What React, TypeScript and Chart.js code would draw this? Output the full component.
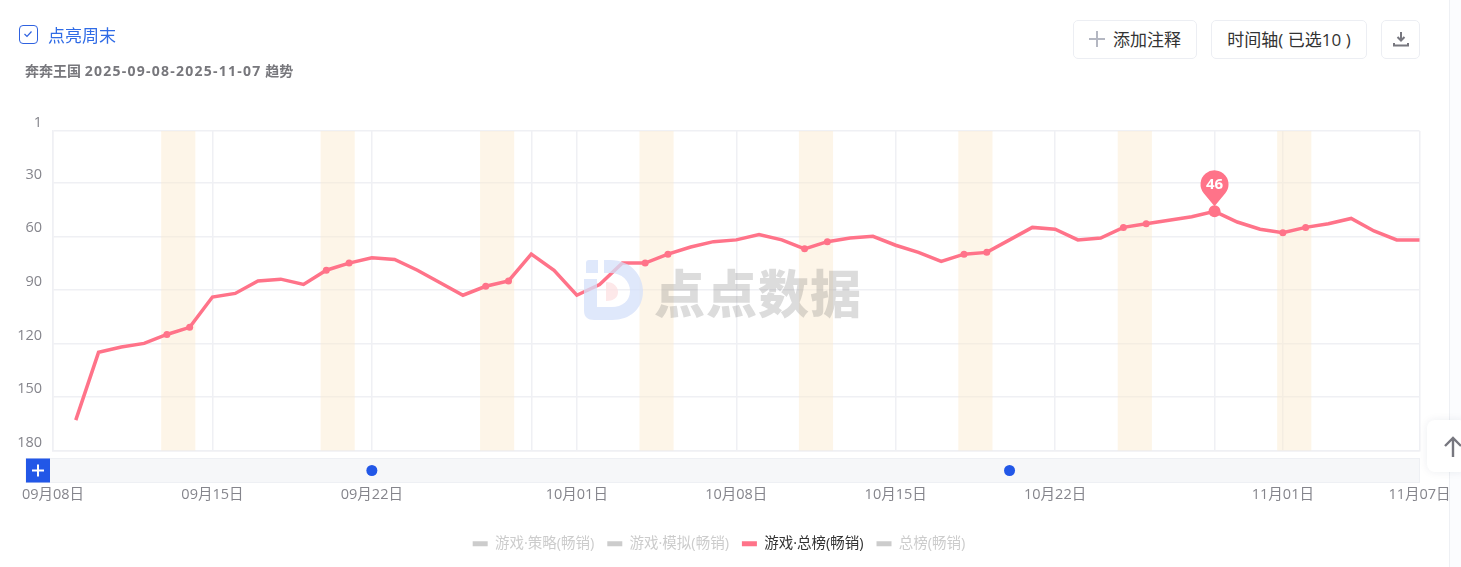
import { Chart, registerables } from "chart.js";
import { useEffect, useRef } from "react";

Chart.register(...registerables);

const FONT = '"Open Sans", "Noto Sans CJK SC", sans-serif';

const dates = [
    "09月08日", "09月09日", "09月10日", "09月11日", "09月12日", "09月13日", "09月14日",
    "09月15日", "09月16日", "09月17日", "09月18日", "09月19日", "09月20日", "09月21日",
    "09月22日", "09月23日", "09月24日", "09月25日", "09月26日", "09月27日", "09月28日",
    "09月29日", "09月30日", "10月01日", "10月02日", "10月03日", "10月04日", "10月05日",
    "10月06日", "10月07日", "10月08日", "10月09日", "10月10日", "10月11日", "10月12日",
    "10月13日", "10月14日", "10月15日", "10月16日", "10月17日", "10月18日", "10月19日",
    "10月20日", "10月21日", "10月22日", "10月23日", "10月24日", "10月25日", "10月26日",
    "10月27日", "10月28日", "10月29日", "10月30日", "10月31日", "11月01日", "11月02日",
    "11月03日", "11月04日", "11月05日", "11月06日", "11月07日",
];

const ranks = [
    null, 163, 125, 122, 120, 115, 111,
    94, 92, 85, 84, 87, 79, 75,
    72, 73, 79, 86, 93, 88, 85,
    70, 79, 93, 87, 75, 75, 70,
    66, 63, 62, 59, 62, 67, 63,
    61, 60, 65, 69, 74, 70, 69,
    62, 55, 56, 62, 61, 55, 53,
    51, 49, 46, 52, 56, 58, 55,
    53, 50, 57, 62, 62,
];

const seriesNames = ["游戏·策略(畅销)", "游戏·模拟(畅销)", "游戏·总榜(畅销)", "总榜(畅销)"];
const activeSeries = "游戏·总榜(畅销)";

const yTicks = [1, 30, 60, 90, 120, 150, 180];
const xTickDates = [
    "09月08日", "09月15日", "09月22日", "09月29日", "10月01日", "10月08日",
    "10月15日", "10月22日", "10月29日", "11月01日", "11月07日",
];
const unlabelledDates = ["09月29日", "10月29日"];

// first day of each highlighted weekend
const weekendStarts = [
    "09月13日", "09月20日", "09月27日", "10月04日", "10月11日", "10月18日", "10月25日", "11月01日",
];
const noteDates = ["09月22日", "10月20日"];
const peakDate = "10月29日";

const LINE_COLOR = "#ff7389";
const GRID_COLOR = "#eff0f4";
const BLUE = "#2257e7";

const isWeekend = (i: number) =>
    weekendStarts.some((d) => {
        const start = dates.indexOf(d);
        return i === start || i === start + 1;
    });

const backdropPlugin = {
    id: "backdrop",
    beforeDatasetsDraw(chart: any) {
        const { ctx, chartArea, scales } = chart;
        ctx.save();
        ctx.fillStyle = "rgba(250, 232, 205, 0.45)";
        weekendStarts.forEach((d) => {
            const i = dates.indexOf(d);
            const left = scales.x.getPixelForValue(i - 0.25);
            const right = scales.x.getPixelForValue(i + 1.25);
            ctx.fillRect(left, chartArea.top, right - left, chartArea.height);
        });

        // time axis strip under the plot
        const stripLeft = chartArea.left - 27;
        const stripTop = chartArea.bottom + 8;
        ctx.fillStyle = "#f6f7f9";
        ctx.fillRect(stripLeft, stripTop, chartArea.right - stripLeft, 24);
        ctx.strokeStyle = "#eef0f4";
        ctx.lineWidth = 1;
        ctx.strokeRect(stripLeft, stripTop, chartArea.right - stripLeft, 24);
        ctx.fillStyle = BLUE;
        ctx.fillRect(stripLeft, stripTop, 24, 24);
        ctx.strokeStyle = "#fff";
        ctx.lineWidth = 2;
        ctx.beginPath();
        ctx.moveTo(stripLeft + 6, stripTop + 12);
        ctx.lineTo(stripLeft + 18, stripTop + 12);
        ctx.moveTo(stripLeft + 12, stripTop + 6);
        ctx.lineTo(stripLeft + 12, stripTop + 18);
        ctx.stroke();
        ctx.fillStyle = BLUE;
        noteDates.forEach((d) => {
            ctx.beginPath();
            ctx.arc(scales.x.getPixelForValue(dates.indexOf(d)), stripTop + 12, 5.5, 0, Math.PI * 2);
            ctx.fill();
        });
        ctx.restore();
    },
    afterDatasetsDraw(chart: any) {
        const { ctx, scales } = chart;
        const i = dates.indexOf(peakDate);
        const x = scales.x.getPixelForValue(i);
        const y = scales.y.getPixelForValue(ranks[i]);
        const cy = y - 27;
        ctx.save();
        ctx.fillStyle = LINE_COLOR;
        ctx.beginPath();
        ctx.arc(x, cy, 14, Math.PI * 0.78, Math.PI * 0.22);
        ctx.lineTo(x, y - 5);
        ctx.closePath();
        ctx.fill();
        ctx.fillStyle = "#fff";
        ctx.font = `bold 15px ${FONT}`;
        ctx.textAlign = "center";
        ctx.textBaseline = "middle";
        ctx.fillText(String(ranks[i]), x, cy);
        ctx.restore();
    },
};

const btn: React.CSSProperties = {
    position: "absolute",
    top: 20,
    height: 39,
    boxSizing: "border-box",
    border: "1px solid #eceef3",
    borderRadius: 5,
    background: "#fff",
    display: "flex",
    alignItems: "center",
    justifyContent: "center",
    paddingBottom: 2,
    fontSize: 17,
    color: "#333",
};

export default function App() {
    const canvasRef = useRef<HTMLCanvasElement | null>(null);

    useEffect(() => {
        const canvas = canvasRef.current;
        if (!canvas) return;
        const chart = new Chart(canvas, {
            type: "line",
            data: {
                labels: dates,
                datasets: seriesNames.map((name) => ({
                    label: name,
                    data: name === activeSeries ? ranks : [],
                    borderColor: LINE_COLOR,
                    backgroundColor: LINE_COLOR,
                    borderWidth: 3.5,
                    tension: 0,
                    spanGaps: false,
                    pointRadius: (c: any) =>
                        dates[c.dataIndex] === peakDate ? 6 : isWeekend(c.dataIndex) ? 3.5 : 0,
                    pointBorderWidth: 0,
                })),
            },
            options: {
                responsive: false,
                animation: false,
                events: [],
                layout: { padding: { top: 131, bottom: 6 } },
                scales: {
                    x: {
                        type: "category",
                        offset: false,
                        afterFit: (s: any) => {
                            s.height = 73;
                            s.paddingLeft = 66;
                            s.paddingRight = 31.5;
                        },
                        afterBuildTicks: (s: any) => {
                            s.ticks = xTickDates.map((d) => ({ value: dates.indexOf(d) }));
                        },
                        grid: { color: GRID_COLOR, lineWidth: 1.5, drawTicks: false },
                        border: { color: GRID_COLOR, width: 1.5 },
                        ticks: {
                            autoSkip: false,
                            maxRotation: 0,
                            padding: 36,
                            color: "#85858c",
                            font: { size: 14.5, family: FONT },
                            callback: (v: any) => (unlabelledDates.includes(dates[v]) ? "" : dates[v]),
                        },
                    },
                    y: {
                        reverse: true,
                        min: 1,
                        max: 180,
                        afterFit: (s: any) => {
                            s.width = 65;
                            s.paddingTop = 0;
                        },
                        afterBuildTicks: (s: any) => {
                            s.ticks = yTicks.map((value) => ({ value }));
                        },
                        grid: { color: GRID_COLOR, lineWidth: 1.5, drawTicks: false },
                        border: { color: GRID_COLOR, width: 1.5 },
                        ticks: {
                            padding: 11,
                            labelOffset: -8,
                            color: "#85858c",
                            font: { size: 14.5, family: FONT },
                        },
                    },
                },
                plugins: {
                    tooltip: { enabled: false },
                    legend: {
                        position: "bottom",
                        labels: {
                            boxWidth: 15,
                            boxHeight: 5,
                            padding: 13,
                            font: { size: 14.5, family: FONT },
                            generateLabels: () =>
                                seriesNames.map((name) => ({
                                    text: name,
                                    fillStyle: name === activeSeries ? LINE_COLOR : "#cccccc",
                                    strokeStyle: "transparent",
                                    lineWidth: 0,
                                    fontColor: name === activeSeries ? "#333333" : "#cccccc",
                                    hidden: false,
                                })),
                        },
                    },
                },
            } as any,
            plugins: [backdropPlugin],
        });
        return () => chart.destroy();
    }, []);

    return (
        <div
            style={{
                position: "fixed",
                inset: 0,
                width: 1461,
                height: 567,
                overflow: "hidden",
                background: "#fff",
                fontFamily: FONT,
            }}
        >
            <div style={{ position: "absolute", left: 1449, top: 0, width: 12, height: 567, background: "#fbfcfe", borderLeft: "1px solid #eef0f4" }} />
            <canvas ref={canvasRef} width={1464} height={567} style={{ position: "absolute", left: -13, top: 0 }} />

            <div style={{ position: "absolute", left: 19, top: 25, width: 19, height: 19, boxSizing: "border-box", border: "1.3px solid #2f62e0", borderRadius: 4 }}>
                <svg width="16" height="16" viewBox="0 0 16 16" style={{ display: "block" }}>
                    <path d="M4.5 8 L7 10.5 L11.5 5.5" fill="none" stroke="#2f62e0" strokeWidth="1.2" />
                </svg>
            </div>
            <div style={{ position: "absolute", left: 48, top: 24, fontSize: 17, lineHeight: "24px", color: "#2f6be6" }}>点亮周末</div>
            <div style={{ position: "absolute", left: 25, top: 61, fontSize: 14, lineHeight: "20px", fontWeight: 700, color: "#77777c", whiteSpace: "nowrap" }}>
                奔奔王国 <span style={{ letterSpacing: 1.25 }}>2025-09-08-2025-11-07</span> 趋势
            </div>

            <div style={{ ...btn, left: 1073, width: 124 }}>
                <svg width="16" height="16" viewBox="0 0 16 16" style={{ marginRight: 8 }}>
                    <path d="M8 0 V16 M0 8 H16" stroke="#b4b7c2" strokeWidth="2" />
                </svg>
                添加注释
            </div>
            <div style={{ ...btn, left: 1211, width: 156 }}>时间轴( 已选10 )</div>
            <div style={{ ...btn, left: 1381, width: 39 }}>
                <svg width="16" height="16" viewBox="0 0 16 16">
                    <path d="M8 1 V9 M4.5 6 L8 9.5 L11.5 6 M1 12 V14.5 H15 V12" fill="none" stroke="#77777f" strokeWidth="2" />
                </svg>
            </div>

            {/* watermark */}
            <svg width="70" height="70" viewBox="0 0 70 70" style={{ position: "absolute", left: 580, top: 255, opacity: 0.75 }}>
                <path d="M6 8 Q6 5 9 5 H18 V18 H6 Z" fill="#d5e0fa" />
                <path d="M24 5 H30 C52 5 63 22 63 36 C63 54 50 65 32 65 H14 C8 65 4 62 4 56 V24 H17 V52 H32 C42 52 50 46 50 36 C50 26 42 18 30 18 H24 Z" fill="#d5e0fa" />
                <path d="M26 27 C34 27 38 32 38 37 C38 43 33 46 26 46 Z" fill="#fde0e2" />
            </svg>
            <div style={{ position: "absolute", left: 654, top: 261, fontSize: 51, lineHeight: "64px", fontWeight: 900, letterSpacing: 1, color: "rgba(110, 110, 110, 0.24)", whiteSpace: "nowrap" }}>
                点点数据
            </div>

            {/* back to top */}
            <div style={{ position: "absolute", left: 1427, top: 420, width: 40, height: 52, background: "#fff", borderRadius: 8, boxShadow: "0 0 8px rgba(30, 40, 80, 0.08)" }}>
                <svg width="20" height="24" viewBox="0 0 20 24" style={{ position: "absolute", left: 16, top: 15 }}>
                    <path d="M10 22 V3 M2 11 L10 3 L18 11" fill="none" stroke="#77777f" strokeWidth="2.4" />
                </svg>
            </div>
        </div>
    );
}
